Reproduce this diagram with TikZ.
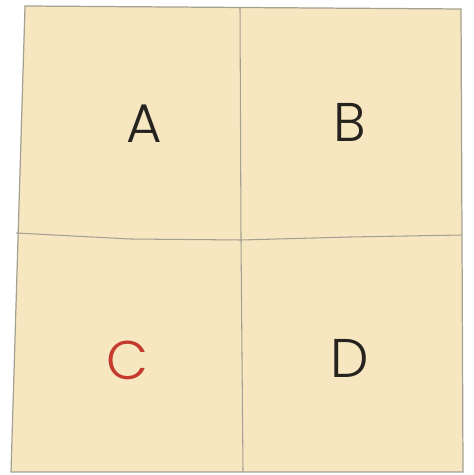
\documentclass[tikz,border=0pt]{standalone}
\usepackage{fontspec}
\setmainfont{Poppins}[UprightFont=* Light]
\usepackage{xcolor}
\usetikzlibrary{positioning}
\definecolor{landfill}{RGB}{246,231,193}
\definecolor{borderline}{RGB}{165,160,145}
\definecolor{labelred}{RGB}{196,58,44}
\definecolor{labeldark}{RGB}{38,34,30}
\begin{document}
\begin{tikzpicture}[
    x=0.02cm, y=-0.02cm,
    region/.style={fill=landfill, draw=borderline, line width=0.7pt},
    divider/.style={draw=borderline, line width=0.6pt},
    lbl/.style={font=\fontsize{31}{31}\selectfont, text=labeldark, inner sep=0pt}
]
\useasboundingbox (0,0) rectangle (473,475);

% outline of the four regions
\coordinate (nw) at (25,6);
\coordinate (ne) at (461,9);
\coordinate (se) at (463,472);
\coordinate (sw) at (11,472);
\draw[region] (nw) -- (ne) -- (se) -- (sw) -- cycle;

% dividing borders
\coordinate (wmid) at (16,233);
\coordinate (emid) at (462,235);
\coordinate (nmid) at (240,8);
\coordinate (smid) at (243,472);
\coordinate (centre) at (241,240);
\draw[divider] (wmid) -- (130,239) -- (centre) -- (350,237) -- (emid);
\draw[divider] (nmid) -- (centre) -- (smid);

% labels
\node[lbl] (labelA) at (144,124) {A};
\node[lbl] (labelB) at (350,122) {B};
\node[lbl, text=labelred] (labelC) at (127,360) {C};
\node[lbl] (labelD) at (350,358) {D};
\end{tikzpicture}
\end{document}
